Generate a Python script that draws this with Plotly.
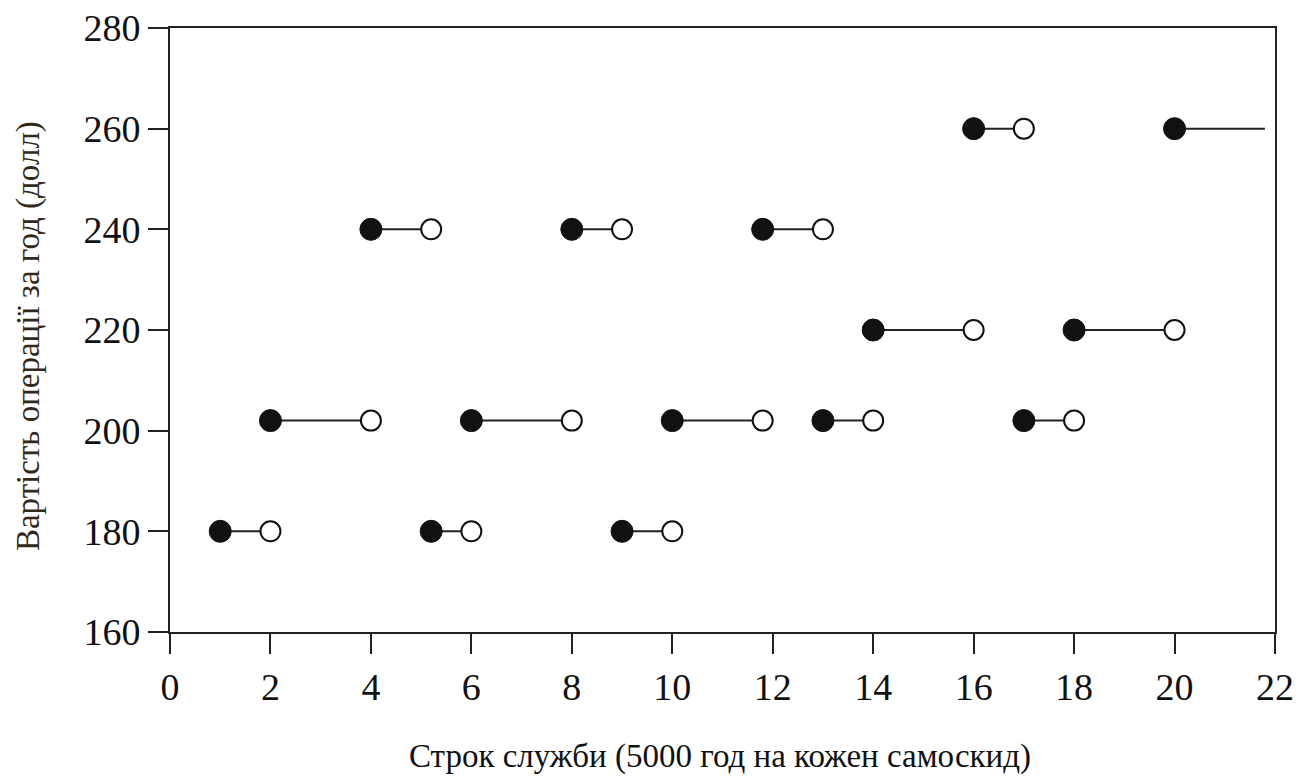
import plotly.graph_objects as go

# Segment data: service life interval (start, end) and yearly operating cost
seg_start = [1, 5.2, 9, 2, 6, 10, 13, 17, 14, 18, 4, 8, 11.8, 16, 20]
seg_end = [2, 6, 10, 4, 8, 11.8, 14, 18, 16, 20, 5.2, 9, 13, 17, 21.8]
seg_cost = [180, 180, 180, 202, 202, 202, 202, 202, 220, 220, 240, 240, 240, 260, 260]
end_marker = [True] * 14 + [False]

x_ticks = list(range(0, 23, 2))
y_ticks = list(range(160, 281, 20))

x_title = "Строк служби (5000 год на кожен самоскид)"
y_title = "Вартість операції за год (долл)"

line_x, line_y = [], []
for s, e, c in zip(seg_start, seg_end, seg_cost):
    line_x += [s, e, None]
    line_y += [c, c, None]

open_x = [e for e, m in zip(seg_end, end_marker) if m]
open_y = [c for c, m in zip(seg_cost, end_marker) if m]

fig = go.Figure()
fig.add_trace(go.Scatter(x=line_x, y=line_y, mode="lines",
                         line=dict(color="#222222", width=2), showlegend=False,
                         hoverinfo="skip"))
fig.add_trace(go.Scatter(x=seg_start, y=seg_cost, mode="markers",
                         marker=dict(size=22, color="#111111",
                                     line=dict(color="#111111", width=1)),
                         showlegend=False))
fig.add_trace(go.Scatter(x=open_x, y=open_y, mode="markers",
                         marker=dict(size=20, color="white",
                                     line=dict(color="#111111", width=2)),
                         showlegend=False))

font_serif = "Liberation Serif, Times New Roman, serif"
fig.update_layout(
    width=1303, height=768,
    margin=dict(l=162, r=36, t=20, b=144),
    paper_bgcolor="white", plot_bgcolor="white",
    font=dict(family=font_serif, color="#111111"),
    annotations=[
        dict(text=x_title, xref="paper", yref="paper", x=0.498, y=0,
             yshift=-124, xanchor="center", yanchor="middle", showarrow=False,
             font=dict(size=33, family=font_serif, color="#111111")),
        dict(text=y_title, xref="paper", yref="paper", x=0, y=0.49,
             xshift=-142, xanchor="center", yanchor="middle", showarrow=False,
             textangle=-90,
             font=dict(size=33, family=font_serif, color="#33291a")),
    ],
)
common = dict(showgrid=False, zeroline=False, showline=True, linecolor="#222222",
              linewidth=2, mirror=True, ticks="outside", ticklen=20, tickwidth=2,
              tickcolor="#222222", automargin=False, ticklabeloverflow="allow",
              tickfont=dict(size=38, family=font_serif, color="#111111"))
fig.update_xaxes(range=[0, 22], tickvals=x_ticks,
                 ticktext=[str(v) for v in x_ticks], **common)
fig.update_yaxes(range=[160, 280], tickvals=y_ticks,
                 ticktext=[str(v) for v in y_ticks], **common)

fig.write_html("out.html")
